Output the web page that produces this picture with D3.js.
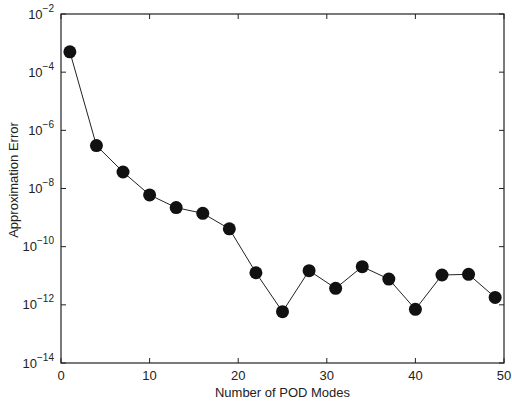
<!DOCTYPE html>
<html>
<head>
<meta charset="utf-8">
<script src="https://cdn.jsdelivr.net/npm/d3@7"></script>
<style>
  body { margin: 0; background: #fff; }
  svg text { font-family: "Liberation Sans", Arial, sans-serif; fill: #222; }
</style>
</head>
<body>
<script>
var w = 512, h = 408;
var margin = { left: 61, right: 8, top: 14, bottom: 45 };

// data
var modes = [1, 4, 7, 10, 13, 16, 19, 22, 25, 28, 31, 34, 37, 40, 43, 46, 49];
var errors = [5.0e-4, 3.0e-7, 3.7e-8, 6.0e-9, 2.2e-9, 1.4e-9, 4.1e-10, 1.27e-11, 5.8e-13,
    1.5e-11, 3.7e-12, 2.05e-11, 7.7e-12, 7.0e-13, 1.06e-11, 1.12e-11, 1.8e-12];
var xTicks = [0, 10, 20, 30, 40, 50];
var yTickExps = [-2, -4, -6, -8, -10, -12, -14];

var data = modes.map(function (m, i) { return { x: m, y: errors[i] }; });

var xScale = d3.scaleLinear()
    .domain([0, 50])
    .range([margin.left, w - margin.right]);
var yScale = d3.scaleLog()
    .domain([1e-14, 1e-2])
    .range([h - margin.bottom, margin.top]);

var svg = d3.select("body").append("svg")
    .attr("width", w)
    .attr("height", h);

var x0 = margin.left, x1 = w - margin.right;
var y0 = h - margin.bottom, y1 = margin.top;
var tl = 5;

// inward ticks on all four sides
var ticks = svg.append("g").attr("stroke", "#222").attr("stroke-width", 1);
xTicks.forEach(function (t) {
    var x = xScale(t);
    ticks.append("line").attr("x1", x).attr("x2", x).attr("y1", y0).attr("y2", y0 - tl);
    ticks.append("line").attr("x1", x).attr("x2", x).attr("y1", y1).attr("y2", y1 + tl);
});
yTickExps.forEach(function (e) {
    var y = yScale(Math.pow(10, e));
    ticks.append("line").attr("x1", x0).attr("x2", x0 + tl).attr("y1", y).attr("y2", y);
    ticks.append("line").attr("x1", x1).attr("x2", x1 - tl).attr("y1", y).attr("y2", y);
});

// frame
svg.append("rect")
    .attr("x", x0).attr("y", y1)
    .attr("width", x1 - x0).attr("height", y0 - y1)
    .attr("fill", "none").attr("stroke", "#222").attr("stroke-width", 1.2);

// x tick labels
svg.append("g").selectAll("text")
    .data(xTicks)
    .enter()
    .append("text")
    .attr("x", function (d) { return xScale(d); })
    .attr("y", y0 + 17)
    .attr("text-anchor", "middle")
    .attr("font-size", 13)
    .text(function (d) { return d; });

// y tick labels 10^e
var yl = svg.append("g").selectAll("text")
    .data(yTickExps)
    .enter()
    .append("text")
    .attr("x", x0 - 7)
    .attr("y", function (d) { return yScale(Math.pow(10, d)) + 4.5; })
    .attr("text-anchor", "end")
    .attr("font-size", 13);
yl.append("tspan").text("10");
yl.append("tspan")
    .attr("dy", -7)
    .attr("font-size", 10)
    .text(function (d) { return "\u2212" + Math.abs(d); });

// axis titles
svg.append("text")
    .attr("x", (x0 + x1) / 2)
    .attr("y", 397)
    .attr("text-anchor", "middle")
    .attr("font-size", 13)
    .text("Number of POD Modes");
svg.append("text")
    .attr("transform", "translate(18,180) rotate(-90)")
    .attr("text-anchor", "middle")
    .attr("font-size", 13)
    .text("Approximation Error");

// line and markers
var line = d3.line()
    .x(function (d) { return xScale(d.x); })
    .y(function (d) { return yScale(d.y); });
svg.append("path")
    .datum(data)
    .attr("d", line)
    .attr("fill", "none")
    .attr("stroke", "#222")
    .attr("stroke-width", 1);
svg.selectAll("circle")
    .data(data)
    .enter()
    .append("circle")
    .attr("cx", function (d) { return xScale(d.x); })
    .attr("cy", function (d) { return yScale(d.y); })
    .attr("r", 6.5)
    .attr("fill", "#111");
</script>
</body>
</html>
